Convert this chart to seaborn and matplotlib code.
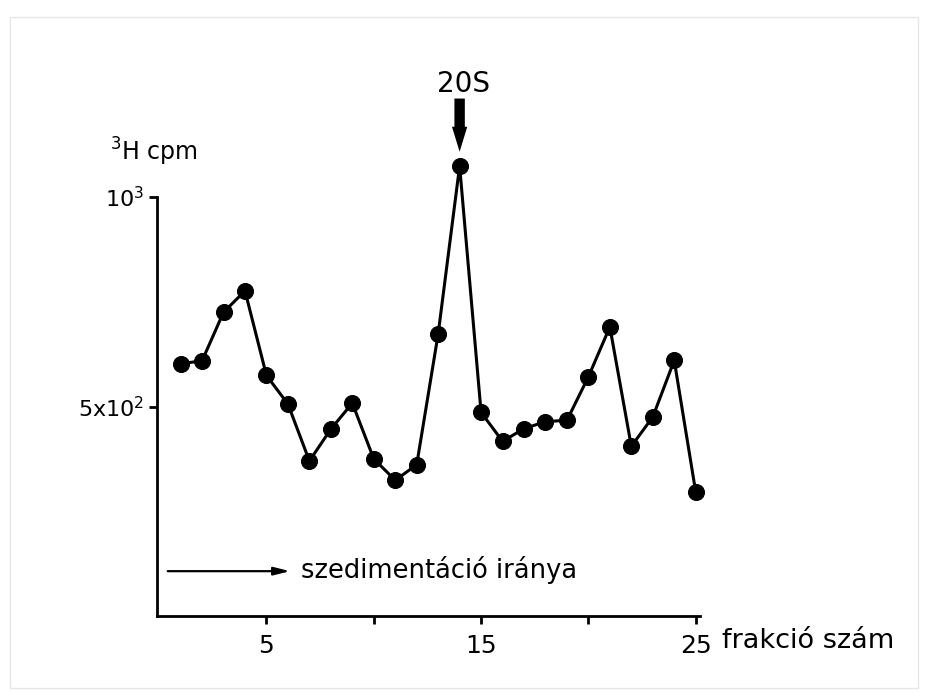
import matplotlib
matplotlib.use("Agg")
import matplotlib.pyplot as plt
import seaborn as sns
import pandas as pd
from matplotlib.patches import Rectangle

# Data
fractions = list(range(1, 26))
cpm = [602, 609, 725, 776, 574, 506, 370, 446, 508, 375, 324, 361, 673,
       1074, 486, 417, 447, 464, 467, 571, 690, 405, 475, 610, 296]
xtick_pos = [5, 10, 15, 20, 25]
xtick_labels = ["5", "", "15", "", "25"]
ytick_pos = [500, 1000]
ytick_labels = ["5x10$^2$", "10$^3$"]

sns.set_theme(style="white")
plt.rcParams['font.family'] = ['DejaVu Sans']

df = pd.DataFrame({"frakcio": fractions, "cpm": cpm})

fig = plt.figure(figsize=(9.25, 6.93), dpi=100)
fig.patch.set_facecolor("white")
ax = fig.add_axes([157/925, 1-616/693, (700-157)/925, (616-197)/693])
ax.set_facecolor("white")

sns.lineplot(data=df, x="frakcio", y="cpm", ax=ax, color="black", linewidth=2.2,
             marker="o", markersize=11.5, markeredgecolor="black",
             markerfacecolor="black", clip_on=False)

ax.set_xlim(-0.1, 25.2)
ax.set_ylim(0, 1000)
for s in ["top", "right"]:
    ax.spines[s].set_visible(False)
for s in ["left", "bottom"]:
    ax.spines[s].set_color("black")
    ax.spines[s].set_linewidth(2.0)

ax.set_xticks(xtick_pos)
ax.set_xticklabels(xtick_labels)
ax.set_yticks(ytick_pos)
ax.set_yticklabels(ytick_labels)
ax.tick_params(axis="both", direction="out", length=6, width=2.0, color="black",
               labelcolor="black", bottom=True, left=True, pad=3)
ax.tick_params(axis="x", pad=7, labelsize=18)
ax.tick_params(axis="y", labelsize=16)
ax.set_xlabel("")
ax.set_ylabel("")

# 20S marker
ax.annotate("", xy=(14.0, 1108), xytext=(14.0, 1235),
            arrowprops=dict(arrowstyle="simple,head_length=1.8,head_width=1.1,tail_width=0.75",
                            mutation_scale=10, facecolor="black", edgecolor="none",
                            lw=0, shrinkA=0, shrinkB=0),
            annotation_clip=False)
ax.text(14.2, 1270, "20S", ha="center", va="center", fontsize=20, color="black",
        clip_on=False)

# sedimentation direction arrow
ax.annotate("", xy=(6.1, 107), xytext=(0.4, 107),
            arrowprops=dict(arrowstyle="-|>,head_length=0.8,head_width=0.2",
                            color="black", lw=1.6, shrinkA=0, shrinkB=0),
            annotation_clip=False)
ax.text(6.6, 110, "szedimentáció iránya", ha="left", va="center",
        fontsize=18.5, color="black")

fig.text(110/925, 1-152/693, "$^3$H cpm", ha="left", va="center", fontsize=17,
         color="black")
fig.text(722/925, 1-641/693, "frakció szám", ha="left", va="center",
         fontsize=19.5, color="black")

# faint photo border
fig.add_artist(Rectangle((10/925, 1-688/693), 908/925, (688-17)/693,
                         transform=fig.transFigure, fill=False,
                         edgecolor="#e6e6e6", linewidth=1.0))

fig.savefig("out.png", dpi=100, facecolor="white")
